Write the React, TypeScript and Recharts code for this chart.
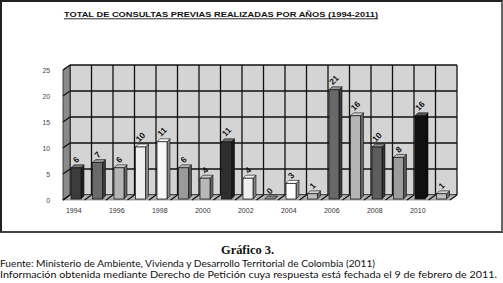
import React from "react";
// Total de consultas previas realizadas por años (1994-2011)
// Barras con efecto 3D, pared de fondo gris y piso inclinado.

import { BarChart, Bar, XAxis, YAxis, CartesianGrid, Cell, LabelList, ReferenceArea } from "recharts";

const YEARS = [
  "1994", "1995", "1996", "1997", "1998", "1999", "2000", "2001", "2002",
  "2003", "2004", "2005", "2006", "2007", "2008", "2009", "2010", "2011",
];
const CONSULTAS = [6, 7, 6, 10, 11, 6, 4, 11, 4, 0, 3, 1, 21, 16, 10, 8, 16, 1];
const Y_TICKS = [0, 5, 10, 15, 20, 25];

const BAR_COLORS = [
  "#3c3c3c", "#6a6a6a", "#b4b4b4", "#eeeeee", "#f7f7f7", "#9a9a9a",
  "#b8b8b8", "#2e2e2e", "#eeeeee", "#555555", "#ffffff", "#bdbdbd",
  "#686868", "#b5b5b5", "#5e5e5e", "#9c9c9c", "#111111", "#c0c0c0",
];

const TITLE = "TOTAL DE CONSULTAS PREVIAS REALIZADAS POR AÑOS (1994-2011)";
const CAPTION = "Gráfico 3.";
const SOURCE = "Fuente: Ministerio de Ambiente, Vivienda y Desarrollo Territorial de Colombia (2011)";
const NOTE = "Información obtenida mediante Derecho de Petición cuya respuesta está fechada el 9 de febrero de 2011.";

const data = YEARS.map((year, i) => ({ year, value: CONSULTAS[i] }));

// depth of the walls and of the bars
const WALL_DX = 7;
const WALL_DY = 5;
const BAR_SHIFT_X = -5;
const BAR_SHIFT_Y = 4;
const BAR_DEPTH = 3;

const FONT = "'Liberation Sans', Arial, sans-serif";

function shade(hex: string, k: number): string {
  const n = parseInt(hex.slice(1), 16);
  const ch = [(n >> 16) & 255, (n >> 8) & 255, n & 255].map((c) =>
    k < 0 ? Math.round(c * (1 + k)) : Math.round(c + (255 - c) * k)
  );
  return `rgb(${ch[0]},${ch[1]},${ch[2]})`;
}

function Bar3D(props: any) {
  const { x, y, width, height, fill } = props;
  const fx = x + BAR_SHIFT_X;
  const fy = y + BAR_SHIFT_Y;
  const w = width;
  const h = Math.max(0, height);
  const d = BAR_DEPTH;
  const top = `${fx},${fy} ${fx + d},${fy - d} ${fx + w + d},${fy - d} ${fx + w},${fy}`;
  const side = `${fx + w},${fy} ${fx + w + d},${fy - d} ${fx + w + d},${fy + h - d} ${fx + w},${fy + h}`;
  return (
    <g>
      <polygon points={side} fill={shade(fill, -0.45)} stroke="#111" strokeWidth={0.6} />
      <polygon points={top} fill={shade(fill, 0.3)} stroke="#111" strokeWidth={0.6} />
      {h > 0 && <rect x={fx} y={fy} width={w} height={h} fill={fill} stroke="#111" strokeWidth={0.7} />}
    </g>
  );
}

function Walls(props: any) {
  const { x, y, width, height } = props;
  const bottom = y + height;
  const right = x + width;
  const sideWall = `${x},${y} ${x},${bottom} ${x - WALL_DX},${bottom + WALL_DY} ${x - WALL_DX},${y + WALL_DY}`;
  const floor = `${x},${bottom} ${right},${bottom} ${right - WALL_DX},${bottom + WALL_DY} ${x - WALL_DX},${bottom + WALL_DY}`;
  const n = YEARS.length;
  const step = width / n;
  const tickCount = Y_TICKS.length - 1;
  return (
    <g>
      <polygon points={sideWall} fill="#8a8a8a" stroke="#222" strokeWidth={0.8} />
      <polygon points={floor} fill="#b4b4b4" stroke="#555" strokeWidth={0.5} />
      {Y_TICKS.map((_, i) => {
        const yy = y + (height * i) / tickCount;
        return (
          <line key={`s${i}`} x1={x} y1={yy} x2={x - WALL_DX} y2={yy + WALL_DY} stroke="#111" strokeWidth={1.2} />
        );
      })}
      {Array.from({ length: n + 1 }, (_, i) => {
        const xx = x + i * step;
        return (
          <line key={`f${i}`} x1={xx} y1={bottom} x2={xx - WALL_DX} y2={bottom + WALL_DY} stroke="#111" strokeWidth={1.2} />
        );
      })}
    </g>
  );
}

function YTick(props: any) {
  const { x, y, payload } = props;
  return (
    <text x={x - 18} y={y + WALL_DY} textAnchor="end" dominantBaseline="central" fontSize={6.8} fill="#444" fontFamily={FONT}>
      {payload.value}
    </text>
  );
}

function XTick(props: any) {
  const { x, y, payload } = props;
  return (
    <text x={x - WALL_DX} y={y + 13} textAnchor="middle" dominantBaseline="central" fontSize={7} fill="#333" fontFamily={FONT}>
      {payload.value}
    </text>
  );
}

function ValueLabel(props: any) {
  const { x, y, width, value } = props;
  const cx = x + BAR_SHIFT_X + width / 2;
  const cy = y + BAR_SHIFT_Y - (6 + String(value).length * 2);
  return (
    <text
      x={cx}
      y={cy}
      transform={`rotate(-45 ${cx} ${cy})`}
      textAnchor="middle"
      dominantBaseline="central"
      fontSize={8.5}
      fontWeight="bold"
      fill="#111"
      fontFamily={FONT}
    >
      {value}
    </text>
  );
}

export default function App() {
  return (
    <div style={{ position: "absolute", left: 0, top: 0, width: 503, height: 283, background: "#fff", overflow: "hidden" }}>
      <div
        style={{
          position: "absolute",
          left: 0,
          top: 0,
          width: 503,
          height: 233,
          boxSizing: "border-box",
          borderStyle: "solid",
          borderWidth: 2,
          borderColor: "#222 #666 #444 #222",
        }}
      />
      <div style={{ position: "absolute", left: 0, top: 0 }}>
        <BarChart width={503} height={232} data={data} margin={{ top: 65, right: 46, left: 10, bottom: 12 }}>
          <CartesianGrid
            fill="#d4d4d4"
            fillOpacity={1}
            stroke="#111"
            strokeWidth={1.3}
            verticalCoordinatesGenerator={({ offset }: any) =>
              Array.from({ length: YEARS.length + 1 }, (_, i) => offset.left + (i * offset.width) / YEARS.length)
            }
          />
          <XAxis dataKey="year" interval={1} height={25} tickLine={false} axisLine={false} tickSize={0} tick={<XTick />} />
          <YAxis
            domain={[0, 25]}
            ticks={Y_TICKS}
            width={60}
            tickLine={false}
            axisLine={false}
            tickSize={0}
            tick={<YTick />}
          />
          <ReferenceArea y1={0} y2={25} ifOverflow="visible" shape={<Walls />} />
          <Bar dataKey="value" barSize={10} isAnimationActive={false} shape={<Bar3D />}>
            {data.map((d, i) => (
              <Cell key={d.year} fill={BAR_COLORS[i]} />
            ))}
            <LabelList dataKey="value" content={<ValueLabel />} />
          </Bar>
        </BarChart>
      </div>
      <svg width={503} height={283} style={{ position: "absolute", left: 0, top: 0, pointerEvents: "none" }}>
        <text x={64} y={17} fontSize={8} fontWeight="bold" fill="#111" fontFamily={FONT} textLength={314} lengthAdjust="spacingAndGlyphs">
          {TITLE}
        </text>
        <line x1={64} y1={18.8} x2={378} y2={18.8} stroke="#111" strokeWidth={0.9} />
        <text
          x={247.5}
          y={253.5}
          textAnchor="middle"
          fontSize={12.5}
          fontWeight="bold"
          fill="#111"
          fontFamily="'Liberation Serif', 'DejaVu Serif', serif"
          textLength={53}
          lengthAdjust="spacingAndGlyphs"
        >
          {CAPTION}
        </text>
        <text x={0} y={266.5} fontSize={10} fill="#111" fontFamily="Lato, 'Open Sans', sans-serif" textLength={375} lengthAdjust="spacingAndGlyphs">
          {SOURCE}
        </text>
        <text x={0} y={277.5} fontSize={10} fill="#111" fontFamily="Lato, 'Open Sans', sans-serif" textLength={497} lengthAdjust="spacingAndGlyphs">
          {NOTE}
        </text>
      </svg>
    </div>
  );
}
